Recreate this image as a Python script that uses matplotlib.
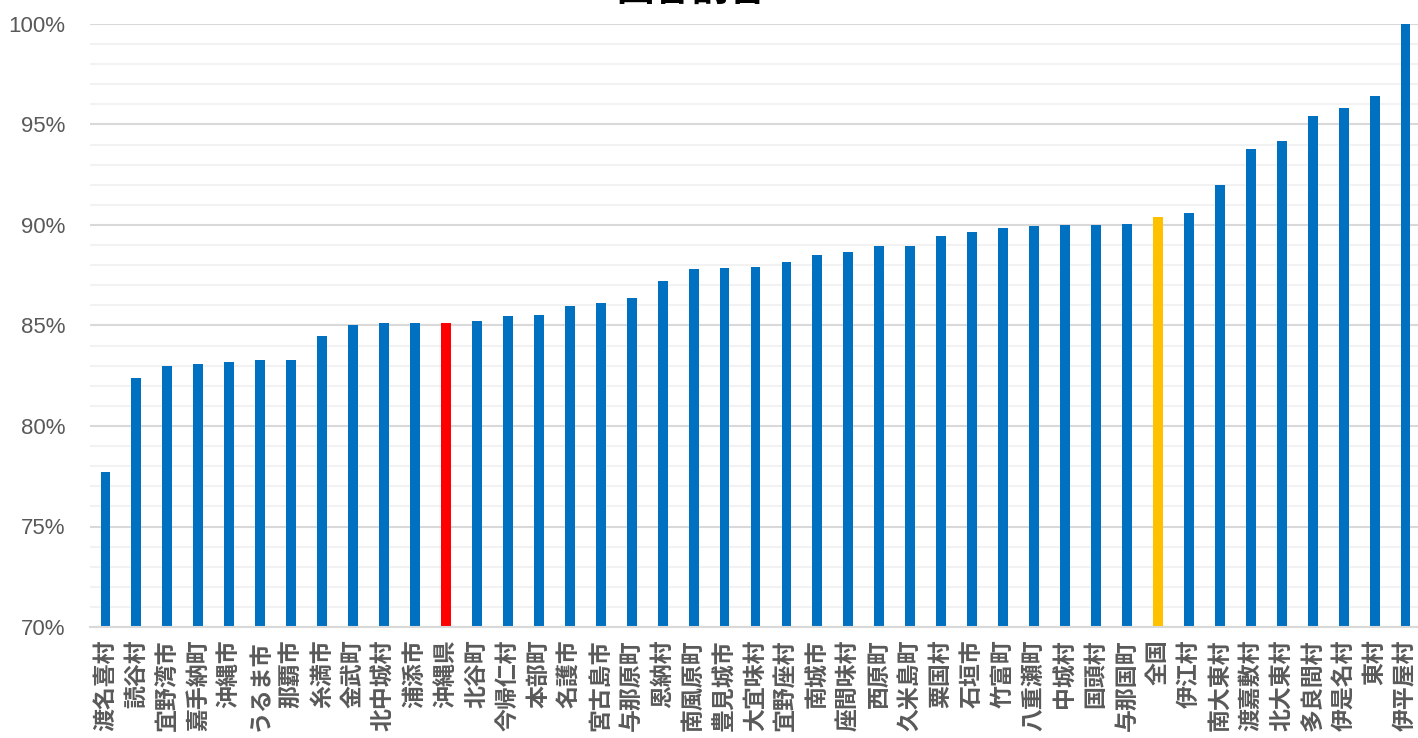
import matplotlib
matplotlib.use("Agg")
import matplotlib.pyplot as plt
from matplotlib.ticker import MultipleLocator, FuncFormatter

categories = ["渡名喜村", "読谷村", "宜野湾市", "嘉手納町", "沖縄市", "うるま市", "那覇市",
              "糸満市", "金武町", "北中城村", "浦添市", "沖縄県", "北谷町", "今帰仁村",
              "本部町", "名護市", "宮古島市", "与那原町", "恩納村", "南風原町", "豊見城市",
              "大宜味村", "宜野座村", "南城市", "座間味村", "西原町", "久米島町", "粟国村",
              "石垣市", "竹富町", "八重瀬町", "中城村", "国頭村", "与那国町", "全国",
              "伊江村", "南大東村", "渡嘉敷村", "北大東村", "多良間村", "伊是名村", "東村",
              "伊平屋村"]
values = [77.7, 82.4, 83.0, 83.1, 83.2, 83.3, 83.3,
          84.5, 85.0, 85.1, 85.1, 85.1, 85.2, 85.45,
          85.5, 85.95, 86.1, 86.35, 87.2, 87.8, 87.85,
          87.9, 88.15, 88.5, 88.65, 88.95, 88.95, 89.45,
          89.65, 89.85, 89.95, 90.0, 90.0, 90.05, 90.4,
          90.6, 92.0, 93.8, 94.2, 95.4, 95.8, 96.4,
          100.0]
highlight = {"沖縄県": "#FF0000", "全国": "#FFC000"}
base_color = "#0070C0"
title = "回答割合"

plt.rcParams['font.family'] = ['Noto Sans CJK JP', 'DejaVu Sans']

fig = plt.figure(figsize=(14.18, 7.38), dpi=100)
ax = fig.add_axes([90 / 1418, 111 / 738, 1331 / 1418, 603 / 738])

colors = [highlight.get(c, base_color) for c in categories]
x = list(range(len(categories)))
ax.bar(x, values, width=0.32, color=colors, zorder=3)

ax.set_xlim(-0.5, len(categories) - 0.5)
ax.set_ylim(70, 100)
ax.yaxis.set_major_locator(MultipleLocator(5))
ax.yaxis.set_minor_locator(MultipleLocator(1))
ax.yaxis.set_major_formatter(FuncFormatter(lambda v, p: f"{v:.0f}%"))
ax.grid(which='major', axis='y', color='#D9D9D9', linewidth=1.5, zorder=0)
ax.grid(which='minor', axis='y', color='#F2F2F2', linewidth=1.5, zorder=0)

for s in ['top', 'right', 'left']:
    ax.spines[s].set_visible(False)
ax.spines['bottom'].set_color('#D9D9D9')
ax.spines['bottom'].set_linewidth(1.5)
ax.spines['bottom'].set_zorder(4)

ax.set_xticks(x)
ax.set_xticklabels(categories, rotation=90, fontsize=16.5, fontweight='bold',
                   color='#595959', family=['Noto Sans CJK JP', 'DejaVu Sans'])
ax.tick_params(axis='x', length=0, pad=9)
ax.tick_params(axis='y', which='both', length=0, pad=18)
for lab in ax.get_yticklabels():
    lab.set_fontsize(16)
    lab.set_color('#595959')
    lab.set_family(['Liberation Sans', 'DejaVu Sans'])

fig.text(691 / 1418, 1 - 9 / 738, title, ha='center', va='bottom',
         fontsize=27, fontweight='bold', color='black')

fig.savefig("out.png", dpi=100)
